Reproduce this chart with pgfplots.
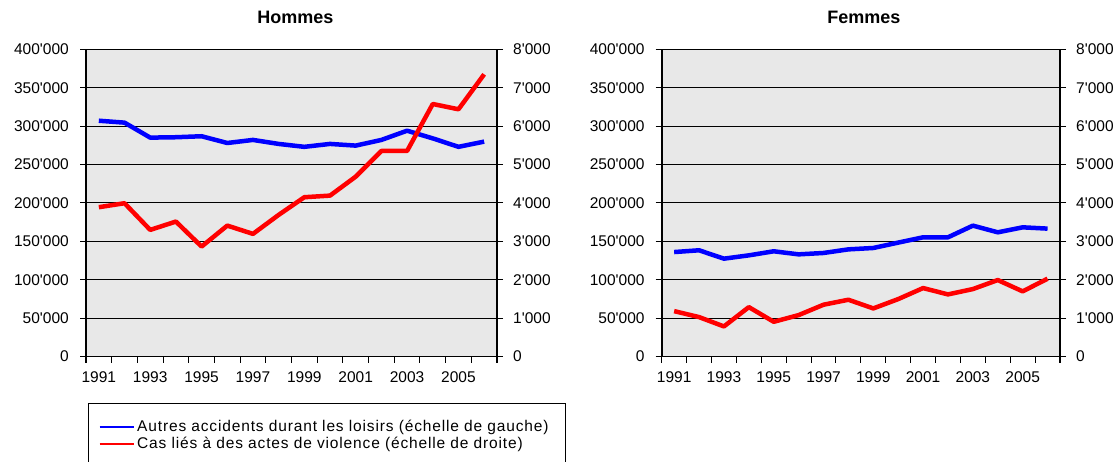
\documentclass[border=0pt]{standalone}
\usepackage{fontspec}
\setmainfont{Liberation Sans}
\usepackage{pgfplots}
\usepackage{pgfplotstable}
\pgfplotsset{compat=1.18}
\definecolor{bg}{RGB}{232,232,232}
\pgfplotstableread{
year hl hr fl fr
1991 307000 3888 136000 1182
1992 304500 3992 138300 1026
1993 285000 3297 127400 783
1994 285500 3514 131700 1286
1995 286800 2863 137000 904
1996 278000 3409 133000 1078
1997 282000 3193 134800 1348
1998 276800 3688 139500 1478
1999 273000 4148 141300 1252
2000 276800 4190 148300 1495
2001 274600 4684 155200 1782
2002 282000 5353 155200 1617
2003 294000 5353 170400 1756
2004 284000 6576 161700 1991
2005 273000 6438 168200 1696
2006 279800 7349 166500 2026
}\data
\pgfplotsset{
  base/.style={
    scale only axis, height=307.2pt,
    xmin=1990.5, xmax=2006.5,
    font=\fontsize{15.5}{18}\selectfont,
    /pgf/number format/assume math mode=true,
    tick align=outside,
    major tick length=6pt, minor tick length=6pt,
    tick style={black, line width=1.1pt},
    axis line style={black, line width=1.8pt},
    scaled y ticks=false,
    clip=false,
  },
  leftax/.style={base,
    axis x line*=bottom, axis y line*=left,
    axis background/.style={fill=bg},
    ymin=0, ymax=400000, ytick={0,50000,...,400000},
    ymajorgrids, major grid style={black, line width=0.9pt},
    xtick={1991,1993,...,2005},
    minor xtick={1990.5,1991.5,...,2006.5},
    major x tick style={draw=none},
    xticklabel style={anchor=north, inner sep=0pt, yshift=-9pt, /pgf/number format/1000 sep={}},
    yticklabel style={anchor=east, inner sep=0pt, xshift=-11pt,
      /pgf/number format/fixed, /pgf/number format/precision=0, /pgf/number format/1000 sep={\textquotesingle}},
    title style={at={(0.5,1)}, anchor=base, yshift=20.3pt, font=\bfseries\fontsize{18}{21}\selectfont},
  },
  rightax/.style={base,
    axis x line=none, axis y line*=right,
    ymin=0, ymax=8000, ytick={0,1000,...,8000},
    yticklabel style={anchor=west, inner sep=0pt, xshift=10pt,
      /pgf/number format/fixed, /pgf/number format/precision=0, /pgf/number format/1000 sep={\textquotesingle}},
  },
}
\begin{document}
\begin{tikzpicture}
\useasboundingbox (0,0) rectangle (1118pt,461pt);
\clip (0,0) rectangle (1118pt,461pt);
% Hommes
\begin{axis}[leftax, at={(86pt,104.5pt)}, width=411pt, title={Hommes}, title style={xshift=4pt}]
\addplot[blue, line width=4.5pt, line join=round] table[x=year, y=hl] {\data};
\end{axis}
\begin{axis}[rightax, at={(86pt,104.5pt)}, width=411pt,
  legend style={at={(axis description cs:0.0056,-0.1518)}, anchor=north west,
    draw=black, line width=0.8pt, fill=white,
    font=\fontsize{15.5}{18}\selectfont\addfontfeature{LetterSpace=5.5},
    inner xsep=10pt, inner ysep=14.5pt, row sep=0pt,
    nodes={inner xsep=2.5pt, inner ysep=2.2pt}},
  legend cell align=left,
  legend image code/.code={\draw[#1, line width=2pt] (0pt,0pt) -- (34pt,0pt);},
]
\addlegendimage{blue}
\addlegendentry{Autres accidents durant les loisirs (échelle de gauche)\hspace*{4pt}}
\addplot[red, line width=4.5pt, line join=round] table[x=year, y=hr] {\data};
\addlegendentry{Cas liés à des actes de violence (échelle de droite)}
\end{axis}
% Femmes
\begin{axis}[leftax, at={(661.7pt,104.5pt)}, width=398.3pt, title={Femmes}, title style={xshift=3pt}]
\addplot[blue, line width=4.5pt, line join=round] table[x=year, y=fl] {\data};
\end{axis}
\begin{axis}[rightax, at={(661.7pt,104.5pt)}, width=398.3pt]
\addplot[red, line width=4.5pt, line join=round] table[x=year, y=fr] {\data};
\end{axis}
\end{tikzpicture}
\end{document}
